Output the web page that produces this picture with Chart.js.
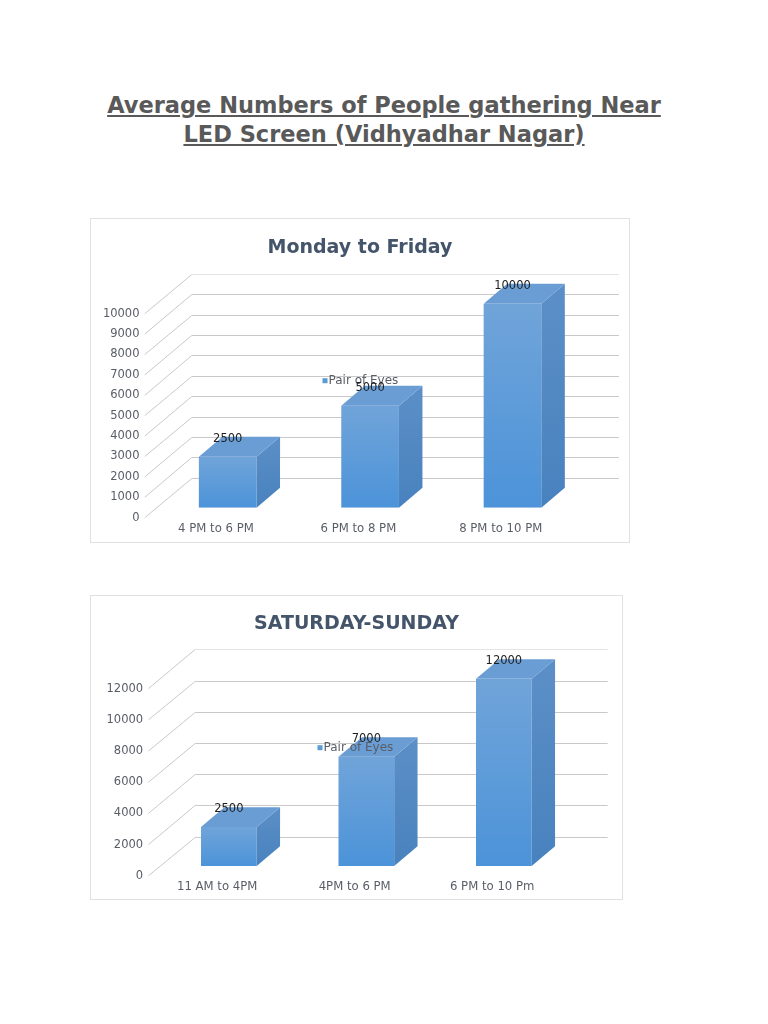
<!DOCTYPE html>
<html>
<head>
<meta charset="utf-8">
<script src="https://cdn.jsdelivr.net/npm/chart.js@4.4.1/dist/chart.umd.min.js"></script>
<style>
  html, body { margin: 0; padding: 0; background: #ffffff; }
  body { width: 768px; height: 1024px; position: relative; overflow: hidden; font-family: "DejaVu Sans", sans-serif; }
  #pageTitle { position: absolute; left: 0; top: 91px; width: 768px; margin: 0; text-align: center;
    font: bold 22.5px/29px "DejaVu Sans", sans-serif; color: #595959; text-decoration: underline; }
  .frame { position: absolute; box-sizing: border-box; border: 1px solid #e1e1e1; background: #ffffff; }
  .holder { position: absolute; }
  .holder canvas { display: block; }
</style>
</head>
<body>
<h1 id="pageTitle">Average Numbers of People gathering Near<br>LED Screen (Vidhyadhar Nagar)</h1>

<div class="frame" style="left:90px;top:218px;width:540px;height:325px"></div>
<div class="holder" style="left:90px;top:218px;width:540px;height:325px"><canvas id="chartWeekday" width="540" height="325"></canvas></div>

<div class="frame" style="left:90px;top:595px;width:533px;height:305px"></div>
<div class="holder" style="left:90px;top:595px;width:533px;height:305px"><canvas id="chartWeekend" width="533" height="305"></canvas></div>

<script>
// ---------- data ----------
const seriesName = 'Pair of Eyes';

const weekdayTitle = 'Monday to Friday';
const weekdayCategories = ['4 PM to 6 PM', '6 PM to 8 PM', '8 PM to 10 PM'];
const weekdayValues = [2500, 5000, 10000];
const weekdayTicks = [0, 1000, 2000, 3000, 4000, 5000, 6000, 7000, 8000, 9000, 10000];

const weekendTitle = 'SATURDAY-SUNDAY';
const weekendCategories = ['11 AM to 4PM', '4PM to 6 PM', '6 PM to 10 Pm'];
const weekendValues = [2500, 7000, 12000];
const weekendTicks = [0, 2000, 4000, 6000, 8000, 10000, 12000];

// ---------- 3D look plugin ----------
const FONT = '"DejaVu Sans", sans-serif';
const TEXT = '#595d66';

const view3d = {
  id: 'view3d',
  beforeDatasetsDraw(chart, args, o) {
    const { ctx, chartArea: a } = chart;
    const ys = chart.scales.y;
    const n = ys.ticks.length;
    ctx.save();
    ctx.lineWidth = 1;
    ys.ticks.forEach((t, i) => {
      const p = ys.getPixelForValue(t.value);
      const fx = a.left - 0.25 * o.dx, fy = p - 0.25 * o.dy;
      const bx = a.left + 0.75 * o.dx, bx2 = a.right + 0.75 * o.dx;
      const by = Math.round(p + 0.75 * o.dy) + 0.5;
      ctx.strokeStyle = '#c9c9c9';
      ctx.beginPath();
      ctx.moveTo(fx, fy);
      ctx.lineTo(bx, by);
      ctx.stroke();
      ctx.strokeStyle = (i === n - 1) ? '#e4e4e4' : '#c9c9c9';
      ctx.beginPath();
      ctx.moveTo(bx, by);
      ctx.lineTo(bx2, by);
      ctx.stroke();
    });
    ctx.restore();
  },
  afterDatasetsDraw(chart, args, o) {
    const { ctx } = chart;
    const meta = chart.getDatasetMeta(0);
    const ds = chart.data.datasets[0];
    const hx = 0.5 * o.dx, hy = 0.5 * o.dy;
    ctx.save();
    meta.data.forEach((bar) => {
      const { x, y, base, width } = bar.getProps(['x', 'y', 'base', 'width'], true);
      const l = x - width / 2, r = x + width / 2;
      // side face
      const gs = ctx.createLinearGradient(0, y + hy, 0, base);
      gs.addColorStop(0, '#5c8fc7');
      gs.addColorStop(1, '#4882be');
      ctx.fillStyle = gs;
      ctx.beginPath();
      ctx.moveTo(r, y);
      ctx.lineTo(r + hx, y + hy);
      ctx.lineTo(r + hx, base + hy);
      ctx.lineTo(r, base);
      ctx.closePath();
      ctx.fill();
      // top face
      ctx.fillStyle = '#6a9dd3';
      ctx.beginPath();
      ctx.moveTo(l, y);
      ctx.lineTo(l + hx, y + hy);
      ctx.lineTo(r + hx, y + hy);
      ctx.lineTo(r, y);
      ctx.closePath();
      ctx.fill();
    });
    // legend (placed where the original shows it)
    ctx.fillStyle = '#5b9bd5';
    ctx.fillRect(o.legendX, o.legendY - 2.5, 5, 5);
    ctx.fillStyle = TEXT;
    ctx.font = '12px ' + FONT;
    ctx.textAlign = 'left';
    ctx.textBaseline = 'middle';
    ctx.fillText(ds.label, o.legendX + 6, o.legendY);
    // value labels
    ctx.fillStyle = '#1e1e1e';
    ctx.font = '11.5px ' + FONT;
    ctx.textAlign = 'center';
    meta.data.forEach((bar, i) => {
      const { x, y } = bar.getProps(['x', 'y'], true);
      ctx.fillText(String(ds.data[i]), x, y - 18);
    });
    ctx.restore();
  }
};

function makeChart(id, title, categories, values, ticks, g) {
  return new Chart(document.getElementById(id), {
    type: 'bar',
    data: {
      labels: categories,
      datasets: [{
        label: seriesName,
        data: values,
        barPercentage: 0.405,
        categoryPercentage: 1.0,
        borderWidth: 0,
        backgroundColor(c) {
          const chart = c.chart;
          if (c.type !== 'data' || !chart.chartArea) return '#5b9bd5';
          const ys = chart.scales.y;
          const top = ys.getPixelForValue(c.raw);
          const base = ys.getPixelForValue(0);
          const gr = chart.ctx.createLinearGradient(0, top, 0, base);
          gr.addColorStop(0, '#70a4d9');
          gr.addColorStop(1, '#4c93d9');
          return gr;
        }
      }]
    },
    options: {
      responsive: false,
      animation: false,
      events: [],
      layout: { padding: 0 },
      scales: {
        x: {
          offset: true,
          grid: { display: false, drawTicks: false, tickLength: 0 },
          border: { display: false },
          ticks: {
            color: TEXT, font: { size: 11.7, family: FONT },
            padding: g.xPad, labelOffset: -0.25 * g.dx,
            maxRotation: 0, autoSkip: false
          },
          afterFit(s) { s.height = g.xHeight; }
        },
        y: {
          min: 0, max: ticks[ticks.length - 1],
          grid: { display: false, drawTicks: false, tickLength: 0 },
          border: { display: false },
          ticks: {
            color: TEXT, font: { size: 11.5, family: FONT },
            padding: 17, labelOffset: -0.25 * g.dy,
            callback: (v) => String(v)
          },
          afterBuildTicks(s) { s.ticks = ticks.map(v => ({ value: v })); },
          afterFit(s) { s.width = g.yWidth; }
        },
        spacer: {
          type: 'linear', position: 'right', display: true,
          grid: { display: false, drawTicks: false, tickLength: 0 },
          border: { display: false },
          ticks: { display: false },
          afterFit(s) { s.width = g.rightWidth; }
        }
      },
      plugins: {
        legend: { display: false },
        tooltip: { enabled: false },
        title: {
          display: true, text: title, color: '#44546a',
          font: { size: 19, weight: 'bold', family: FONT, lineHeight: 1.2 },
          padding: { top: g.titleTop, bottom: g.titleBottom }
        },
        view3d: { dx: g.dx, dy: g.dy, legendX: g.legendX, legendY: g.legendY }
      }
    },
    plugins: [view3d]
  });
}

makeChart('chartWeekday', weekdayTitle, weekdayCategories, weekdayValues, weekdayTicks, {
  yWidth: 66.5, rightWidth: 46.3, xHeight: 35.3, xPad: 14,
  titleTop: 18.6, titleBottom: 44.3,
  dx: 47, dy: -40, legendX: 232.5, legendY: 162.7
});

makeChart('chartWeekend', weekendTitle, weekendCategories, weekendValues, weekendTicks, {
  yWidth: 70.1, rightWidth: 50.4, xHeight: 34, xPad: 13.7,
  titleTop: 17.6, titleBottom: 43.4,
  dx: 46.7, dy: -39.3, legendX: 227.5, legendY: 152.7
});
</script>
</body>
</html>
